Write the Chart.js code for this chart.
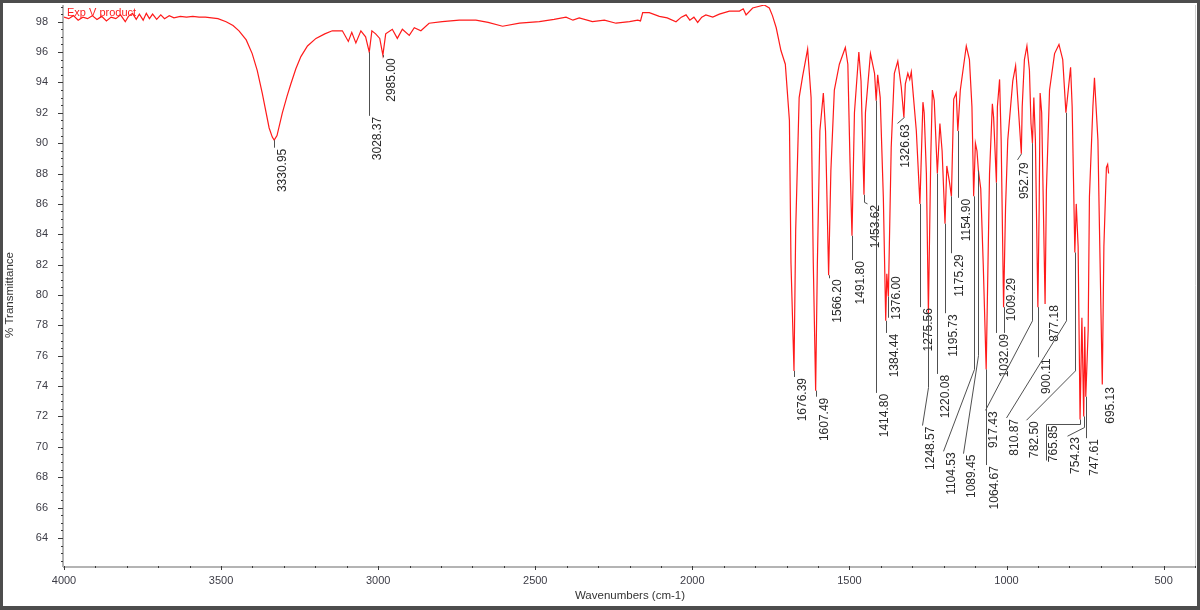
<!DOCTYPE html>
<html>
<head>
<meta charset="utf-8">
<script src="https://cdn.jsdelivr.net/npm/chart.js@4"></script>
<style>
  html, body { margin: 0; padding: 0; background: #fff; }
  canvas { display: block; }
</style>
</head>
<body>
<canvas id="ir" width="1200" height="610"></canvas>
<script>
const sampleName = 'Exp V product';

const wavenumbers = [
  4000, 3985, 3970, 3955, 3940, 3925, 3910, 3895, 3880, 3865, 3850, 3835, 3820, 3805, 3795, 3782,
  3770, 3760, 3748, 3738, 3728, 3718, 3705, 3692, 3680, 3665, 3650, 3630, 3610, 3590, 3570, 3550,
  3530, 3510, 3484, 3462, 3443, 3420, 3401, 3385, 3369, 3347, 3337, 3330.95, 3322, 3305, 3290, 3278,
  3262, 3246, 3225, 3198, 3170, 3146, 3114, 3095, 3084, 3071, 3055, 3040, 3028.37, 3020, 3008, 2995,
  2985, 2976, 2955, 2939, 2923, 2901, 2885, 2864, 2838, 2796, 2742, 2689, 2650, 2604, 2550, 2487,
  2440, 2402, 2380, 2360, 2318, 2280, 2243, 2200, 2174, 2165, 2158, 2137, 2105, 2080, 2052, 2035,
  2020, 2008, 1995, 1983, 1970, 1957, 1935, 1914, 1882, 1850, 1838, 1829, 1808, 1771, 1755, 1745,
  1733, 1718, 1704, 1691, 1686, 1676.39, 1671, 1660, 1649, 1633, 1622, 1615, 1607.49, 1602, 1594, 1583,
  1576, 1566.2, 1559, 1548, 1532, 1513, 1505, 1498, 1491.8, 1484, 1470, 1463, 1453.62, 1449, 1433, 1420,
  1414.8, 1410, 1402, 1392, 1384.44, 1381, 1376, 1367, 1357, 1346, 1335, 1326.63, 1322, 1314, 1308, 1303,
  1296, 1287, 1275.56, 1266, 1262, 1255, 1248.57, 1241, 1236, 1230, 1220.08, 1212, 1205, 1195.73, 1190, 1182,
  1175.29, 1168, 1160, 1154.9, 1147, 1128, 1118, 1110, 1104.53, 1099, 1094, 1089.45, 1082, 1074, 1064.67, 1054,
  1045, 1041, 1032.09, 1029, 1022, 1017, 1009.29, 1003, 996, 980, 971, 966, 952.79, 950, 943, 935,
  927, 922, 917.43, 913, 908, 900.11, 896, 893, 888, 877.18, 873, 863, 847, 833, 821, 810.87,
  796, 791, 782.5, 778, 772, 765.85, 760, 754.23, 751, 747.61, 740, 736, 725, 720, 709, 704,
  695.13, 690, 685, 682, 678, 675
];

const transmittance = [
  98.3, 98.2, 98.4, 98.1, 98.3, 98.2, 98.4, 98.15, 98.35, 98.05, 98.3, 98.2, 98.45, 98.0, 98.35, 98.55,
  98.15, 98.5, 98.1, 98.55, 98.2, 98.5, 98.15, 98.45, 98.2, 98.4, 98.25, 98.35, 98.3, 98.35, 98.3, 98.3,
  98.25, 98.2, 98.0, 97.75, 97.4, 96.8, 95.9, 94.8, 93.3, 91.0, 90.4, 90.2, 90.5, 92.0, 93.1, 93.9,
  94.9, 95.7, 96.4, 96.9, 97.2, 97.4, 97.4, 96.7, 97.3, 96.6, 97.4, 97.0, 96.0, 97.4, 97.2, 96.9,
  95.8, 97.2, 97.5, 96.9, 97.5, 97.1, 97.6, 97.4, 97.9, 98.0, 98.1, 98.1, 97.95, 97.7, 97.9, 98.0,
  98.15, 98.3, 98.1, 98.25, 98.0, 98.1, 97.9, 98.0, 98.1, 98.05, 98.6, 98.6, 98.35, 98.25, 98.0, 98.3,
  98.45, 98.1, 98.3, 97.95, 98.3, 98.45, 98.3, 98.5, 98.7, 98.7, 98.85, 98.45, 98.9, 99.1, 98.9, 98.4,
  97.6, 96.1, 95.2, 91.5, 82.1, 75.0, 84.3, 93.0, 94.4, 96.2, 93.0, 82.1, 73.7, 82.1, 90.8, 93.3,
  90.8, 81.3, 88.2, 93.5, 95.2, 96.3, 95.2, 88.7, 83.9, 92.0, 96.0, 94.1, 86.6, 92.0, 95.9, 94.6,
  92.8, 94.5, 93.0, 86.4, 78.3, 81.4, 79.9, 89.7, 94.6, 95.4, 93.7, 91.7, 93.9, 94.6, 94.2, 94.7,
  93.0, 90.8, 86.0, 92.7, 92.0, 88.0, 78.8, 89.1, 93.5, 92.8, 88.0, 91.3, 89.5, 84.7, 88.5, 87.5,
  86.5, 92.9, 93.3, 90.8, 93.5, 96.4, 95.5, 92.4, 86.5, 90.0, 89.5, 88.2, 87.0, 82.0, 75.1, 88.0,
  92.6, 91.7, 87.4, 92.4, 94.2, 90.2, 79.2, 85.8, 90.2, 94.1, 95.1, 93.5, 89.3, 92.4, 95.5, 96.4,
  94.8, 91.3, 90.0, 93.0, 90.2, 79.2, 85.8, 93.3, 92.0, 79.4, 86.9, 93.5, 95.9, 96.5, 95.5, 92.0,
  95.0, 92.4, 82.8, 86.0, 83.2, 71.8, 78.5, 72.0, 77.9, 73.3, 77.7, 86.5, 92.4, 94.3, 90.2, 84.3,
  74.1, 83.2, 86.5, 88.4, 88.6, 88.0
];

const xTickValues = [4000, 3500, 3000, 2500, 2000, 1500, 1000, 500];
const yTickValues = [64, 66, 68, 70, 72, 74, 76, 78, 80, 82, 84, 86, 88, 90, 92, 94, 96, 98];

// [label, peak wavenumber, leader points after the tip (wavenumber, %T), text anchor if not the last point]
const peakLabels = [
  ['3330.95', 3330.95, [[3330.95, 89.7]]],
  ['3028.37', 3028.37, [[3028.37, 91.8]]],
  ['2985.00', 2985, [[2985, 95.65]]],
  ['1676.39', 1676.39, [[1676.39, 74.6]]],
  ['1607.49', 1607.49, [[1607.49, 73.3]]],
  ['1566.20', 1566.2, [[1566.2, 81.1]]],
  ['1491.80', 1491.8, [[1491.8, 82.3]]],
  ['1453.62', 1453.62, [[1453.62, 86.1], [1444, 86.0]]],
  ['1414.80', 1414.8, [[1414.8, 73.55]]],
  ['1384.44', 1384.44, [[1384.44, 77.5]]],
  ['1376.00', 1376, [[1376, 78.5]], [1375, 81.3]],
  ['1326.63', 1326.63, [[1347, 91.3]]],
  ['1275.56', 1275.56, [[1275.56, 79.2]]],
  ['1248.57', 1248.57, [[1248.57, 73.9], [1270, 71.4]]],
  ['1220.08', 1220.08, [[1220.08, 74.8]]],
  ['1195.73', 1195.73, [[1195.73, 78.8]]],
  ['1175.29', 1175.29, [[1175.29, 82.75]]],
  ['1154.90', 1154.9, [[1154.9, 86.4]]],
  ['1104.53', 1104.53, [[1104.53, 75.1], [1203, 69.7]]],
  ['1089.45', 1089.45, [[1089.45, 76.0], [1140, 69.55]]],
  ['1064.67', 1064.67, [[1064.67, 68.8]]],
  ['1032.09', 1032.09, [[1032.09, 77.5]]],
  ['1009.29', 1009.29, [[1009.29, 77.5]], [1010, 81.2]],
  ['952.79', 952.79, [[966, 88.9]], [968, 88.8]],
  ['917.43', 917.43, [[917.43, 78.3], [1067, 72.4]]],
  ['900.11', 900.11, [[900.11, 75.9]]],
  ['877.18', 877.18, [], [873, 79.4]],
  ['810.87', 810.87, [[810.87, 78.3], [1003, 71.9]]],
  ['782.50', 782.5, [[782.5, 75.0], [937, 71.75]]],
  ['765.85', 765.85, [[765.85, 71.47], [874, 71.47], [874, 69.1]], [874, 71.47]],
  ['754.23', 754.23, [[754.23, 71.27], [809, 70.7]]],
  ['747.61', 747.61, [[747.61, 70.57]]],
  ['695.13', 695.13, [], [695.13, 74.0]],
];

const FONT = 'Arial, "Liberation Sans", sans-serif';
Chart.defaults.font.family = FONT;

const irDecor = {
  id: 'irDecor',
  beforeDraw(chart) {
    const ctx = chart.ctx;
    ctx.save();
    ctx.fillStyle = '#fff';
    ctx.fillRect(0, 0, chart.width, chart.height);
    ctx.restore();
  },
  afterDatasetsDraw(chart) {
    const ctx = chart.ctx;
    const xs = chart.scales.x, ys = chart.scales.y;
    ctx.save();
    ctx.strokeStyle = '#505050';
    ctx.lineWidth = 1;
    ctx.fillStyle = '#2a2a2a';
    ctx.font = '12px ' + FONT;
    peakLabels.forEach(([text, wn, path, at]) => {
      const tip = transmittance[wavenumbers.indexOf(wn)];
      const pts = [[wn, tip], ...path].map(([w, t]) => [Math.round(xs.getPixelForValue(w)) + 0.5, ys.getPixelForValue(t)]);
      if (pts.length > 1) {
        ctx.beginPath();
        ctx.moveTo(pts[0][0], pts[0][1]);
        pts.slice(1).forEach(p => ctx.lineTo(p[0], p[1]));
        ctx.stroke();
      }
      const anchor = at ? [xs.getPixelForValue(at[0]), ys.getPixelForValue(at[1])] : pts[pts.length - 1];
      ctx.save();
      ctx.translate(anchor[0] + 2, anchor[1] + 1);
      ctx.rotate(-Math.PI / 2);
      ctx.textAlign = 'right';
      ctx.textBaseline = 'top';
      ctx.fillText(text, 0, 0);
      ctx.restore();
    });
    ctx.restore();
  },
  afterDraw(chart) {
    const ctx = chart.ctx;
    const area = chart.chartArea;
    const xs = chart.scales.x, ys = chart.scales.y;
    ctx.save();

    // plot edges
    ctx.strokeStyle = '#d0d0d0';
    ctx.lineWidth = 1;
    ctx.beginPath();
    ctx.moveTo(area.right + 0.5, area.top);
    ctx.lineTo(area.right + 0.5, area.bottom);
    ctx.stroke();

    ctx.strokeStyle = '#b4b4b4';
    ctx.lineWidth = 2;
    ctx.beginPath();
    ctx.moveTo(area.left - 1, area.bottom + 1);
    ctx.lineTo(area.right, area.bottom + 1);
    ctx.moveTo(area.left - 1, area.top);
    ctx.lineTo(area.left - 1, area.bottom + 1);
    ctx.stroke();

    // tick marks
    ctx.strokeStyle = '#3a3a3a';
    ctx.lineWidth = 1;
    ctx.beginPath();
    for (let w = 400; w <= 4000; w += 100) {
      const x = Math.round(xs.getPixelForValue(w)) + 0.5;
      const len = w % 500 === 0 ? 4 : 2;
      ctx.moveTo(x, area.bottom);
      ctx.lineTo(x, area.bottom + len);
    }
    for (let t = 62.5; t <= 99; t += 0.5) {
      const y = Math.round(ys.getPixelForValue(t)) + 0.5;
      const len = t % 2 === 0 ? 5 : 2;
      ctx.moveTo(area.left - len - 1, y);
      ctx.lineTo(area.left - 1, y);
    }
    ctx.stroke();

    // axis titles
    ctx.fillStyle = '#333';
    ctx.font = '11.5px ' + FONT;
    ctx.textAlign = 'center';
    ctx.textBaseline = 'middle';
    ctx.fillText('Wavenumbers (cm-1)', 630, 596);
    ctx.save();
    ctx.translate(10, 295);
    ctx.rotate(-Math.PI / 2);
    ctx.fillText('% Transmittance', 0, 0);
    ctx.restore();

    // sample name
    ctx.fillStyle = '#ff2020';
    ctx.font = '11px ' + FONT;
    ctx.textAlign = 'left';
    ctx.fillText(sampleName, 67, 13);

    // window frame
    ctx.fillStyle = '#4d4d4d';
    ctx.fillRect(0, 0, 1200, 3);
    ctx.fillRect(0, 0, 3, 610);
    ctx.fillRect(1197, 0, 3, 610);
    ctx.fillRect(0, 606, 1200, 4);
    ctx.restore();
  }
};

new Chart(document.getElementById('ir'), {
  type: 'line',
  data: {
    datasets: [{
      label: sampleName,
      data: wavenumbers.map((w, i) => ({ x: w, y: transmittance[i] })),
      borderColor: '#ff1a1a',
      borderWidth: 1.2,
      pointRadius: 0,
      tension: 0,
      fill: false
    }]
  },
  options: {
    responsive: false,
    animation: false,
    layout: { padding: { top: 5, right: 5, left: 0, bottom: 0 } },
    plugins: { legend: { display: false }, tooltip: { enabled: false } },
    scales: {
      x: {
        type: 'linear',
        reverse: true,
        min: 400,
        max: 4000,
        grid: { display: false },
        border: { display: false },
        afterBuildTicks: s => { s.ticks = xTickValues.map(v => ({ value: v })); },
        afterFit: s => { s.height = 44; s.paddingLeft = 0; s.paddingRight = 0; },
        ticks: { autoSkip: false, maxRotation: 0, padding: 0, color: '#3c3c46', font: { size: 11 }, callback: v => String(v) }
      },
      y: {
        min: 62.15,
        max: 99.1,
        grid: { display: false },
        border: { display: false },
        afterBuildTicks: s => { s.ticks = yTickValues.map(v => ({ value: v })); },
        afterFit: s => { s.width = 64; s.paddingTop = 0; s.paddingBottom = 0; },
        ticks: { autoSkip: false, padding: 8, color: '#3c3c46', font: { size: 11 }, callback: v => String(v) }
      }
    }
  },
  plugins: [irDecor]
});
</script>
</body>
</html>
